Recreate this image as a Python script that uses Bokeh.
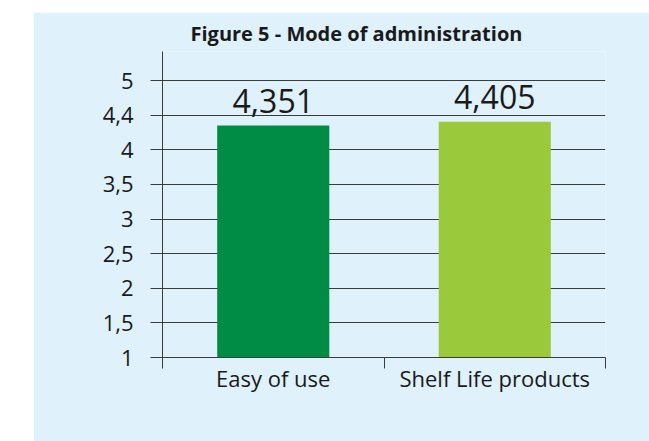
from bokeh.plotting import figure
from bokeh.models import Range1d, FixedTicker, ColumnDataSource
from bokeh.core.properties import value
from bokeh.embed import file_html
from bokeh.resources import INLINE

TITLE = "Figure 5 - Mode of administration"
CATEGORIES = ["Easy of use", "Shelf Life products"]
VALUES = [4.351, 4.405]
COLORS = ["#008c44", "#9bc93c"]
Y_TICKS = [1, 1.5, 2, 2.5, 3, 3.5, 4, 4.5, 5]
Y_TICK_LABELS = ["1", "1,5", "2", "2,5", "3", "3,5", "4", "4,4", "5"]
Y_MIN, Y_MAX = 1, 5.42

BG = "#dff1fb"
INK = "#1a1a1a"
LINE = "#3c3c3c"
FONT = "Open Sans"

xs = [i + 0.5 for i in range(len(CATEGORIES))]
bounds = list(range(len(CATEGORIES) + 1))
source = ColumnDataSource(dict(
    x=xs, top=VALUES, color=COLORS,
    label=[f"{v:.3f}".replace(".", ",") for v in VALUES],
))

p = figure(width=616, height=429,
           x_range=Range1d(0, len(CATEGORIES)), y_range=Range1d(Y_MIN, Y_MAX),
           output_backend="svg", toolbar_location=None, title=TITLE,
           min_border_left=129, min_border_right=44,
           min_border_top=39, min_border_bottom=84,
           background_fill_color=BG, border_fill_color=BG,
           outline_line_color=None, margin=(12, 0, 0, 33))

p.vbar(x="x", width=0.506, bottom=Y_MIN, top="top", color="color",
       line_color=None, source=source)
p.text(x="x", y="top", text="label", source=source, y_offset=-25,
       text_align="center", text_baseline="alphabetic",
       text_font=value(FONT), text_font_size="32px", text_color=INK)

# title
p.title.text_font = FONT
p.title.text_font_style = "bold"
p.title.text_font_size = "20px"
p.title.text_color = INK
p.title.align = "left"
p.title.offset = 28
p.title.standoff = 10

# grid
p.xgrid.visible = False
p.ygrid.ticker = FixedTicker(ticks=Y_TICKS)
p.ygrid.grid_line_color = LINE
p.ygrid.grid_line_width = 1

# y axis
ya = p.yaxis[0]
ya.ticker = FixedTicker(ticks=Y_TICKS, minor_ticks=[])
ya.major_label_overrides = {t: l for t, l in zip(Y_TICKS, Y_TICK_LABELS)}
ya.major_tick_in = 0
ya.major_tick_out = 12
ya.minor_tick_line_color = None
ya.axis_line_color = LINE
ya.major_tick_line_color = LINE
ya.major_label_standoff = 17
ya.major_label_text_font = FONT
ya.major_label_text_font_size = "22px"
ya.major_label_text_color = INK

# x axis
xa = p.xaxis[0]
xa.ticker = FixedTicker(ticks=xs, minor_ticks=bounds)
xa.major_label_overrides = {x: c for x, c in zip(xs, CATEGORIES)}
xa.major_tick_line_color = None
xa.minor_tick_in = 0
xa.minor_tick_out = 11
xa.minor_tick_line_color = LINE
xa.axis_line_color = LINE
xa.major_label_standoff = -6
xa.major_label_text_font = FONT
xa.major_label_text_font_size = "22px"
xa.major_label_text_color = INK

open("out.html", "w").write(file_html(p, INLINE))
